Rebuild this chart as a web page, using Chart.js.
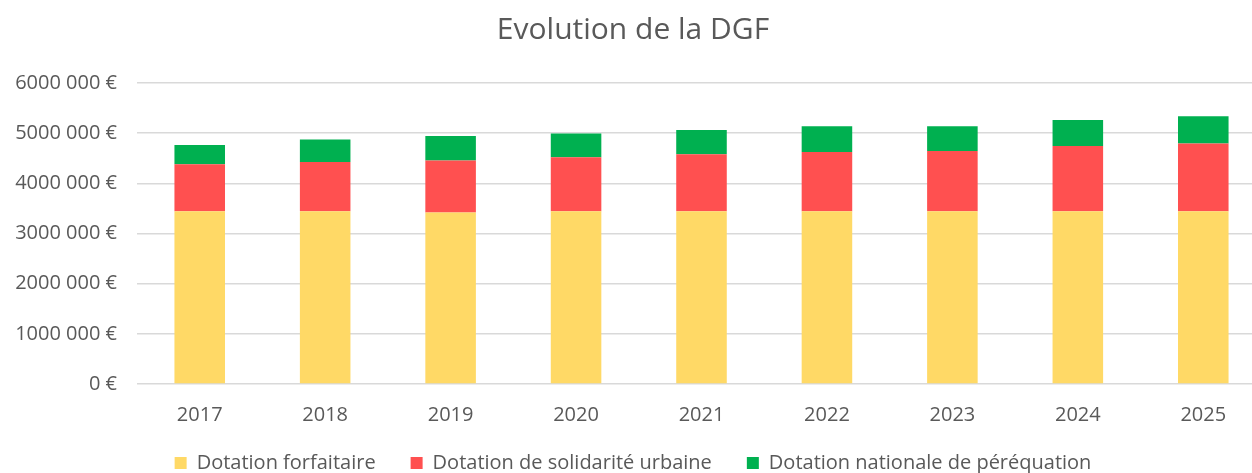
<!DOCTYPE html>
<html>
<head>
<meta charset="utf-8">
<script src="https://cdn.jsdelivr.net/npm/chart.js@4/dist/chart.umd.min.js"></script>
<style>
  html, body { margin: 0; padding: 0; background: #fff; overflow: hidden; }
  #wrap { width: 1286px; height: 473px; }
</style>
</head>
<body>
<div id="wrap"><canvas id="canvas"></canvas></div>
<script>
// data
var years = ['2017', '2018', '2019', '2020', '2021', '2022', '2023', '2024', '2025'];
var forfaitaire = [3445000, 3445000, 3418000, 3445000, 3445000, 3445000, 3445000, 3445000, 3445000];
var solidarite = [936000, 982000, 1036000, 1075000, 1135000, 1181000, 1201000, 1301000, 1348000];
var perequation = [384000, 445000, 491000, 472000, 484000, 511000, 491000, 517000, 544000];
var tickLabels = ['0 €', '1000 000 €', '2000 000 €', '3000 000 €', '4000 000 €', '5000 000 €', '6000 000 €'];

var grey = '#595959';
Chart.defaults.font.family = "'Open Sans', sans-serif";
Chart.defaults.color = grey;

// the x axis box is kept short so the legend sits lower; let its labels draw past it
var unclipX = {
    id: 'unclipX',
    afterLayout: function (chart) {
        chart.scales.x.bottom = chart.height;
    }
};

var config = {
    type: 'bar',
    data: {
        labels: years,
        datasets: [
            { label: 'Dotation forfaitaire', data: forfaitaire, backgroundColor: '#FFD966' },
            { label: 'Dotation de solidarité urbaine', data: solidarite, backgroundColor: '#FF5050' },
            { label: 'Dotation nationale de péréquation', data: perequation, backgroundColor: '#00B050' }
        ]
    },
    options: {
        responsive: false,
        animation: false,
        layout: { padding: { left: 0, right: 20, top: 0, bottom: -10 } },
        datasets: { bar: { categoryPercentage: 1, barPercentage: 0.403 } },
        plugins: {
            title: {
                display: true,
                text: 'Evolution de la DGF',
                color: grey,
                font: { size: 30, weight: 'normal' },
                padding: { top: 12, bottom: 35 }
            },
            legend: {
                position: 'bottom',
                labels: {
                    boxWidth: 12,
                    boxHeight: 12,
                    padding: 35,
                    color: grey,
                    font: { size: 20 }
                }
            },
            tooltip: { enabled: false }
        },
        scales: {
            x: {
                stacked: true,
                afterFit: function (scale) { scale.height = 34; },
                grid: { display: false, drawTicks: false },
                border: { display: false },
                ticks: { padding: 19, color: grey, font: { size: 20 } }
            },
            y: {
                stacked: true,
                min: 0,
                max: 6000000,
                afterFit: function (scale) { scale.width = 137; },
                grid: { color: '#D9D9D9', lineWidth: 1.5, drawTicks: false },
                border: { display: false },
                ticks: {
                    stepSize: 1000000,
                    padding: 20,
                    color: grey,
                    font: { size: 20 },
                    callback: function (value) { return tickLabels[Math.round(value / 1000000)]; }
                }
            }
        }
    },
    plugins: [unclipX]
};

var canvas = document.getElementById('canvas');
canvas.width = 1286;
canvas.height = 473;
new Chart(canvas, config);
</script>
</body>
</html>
